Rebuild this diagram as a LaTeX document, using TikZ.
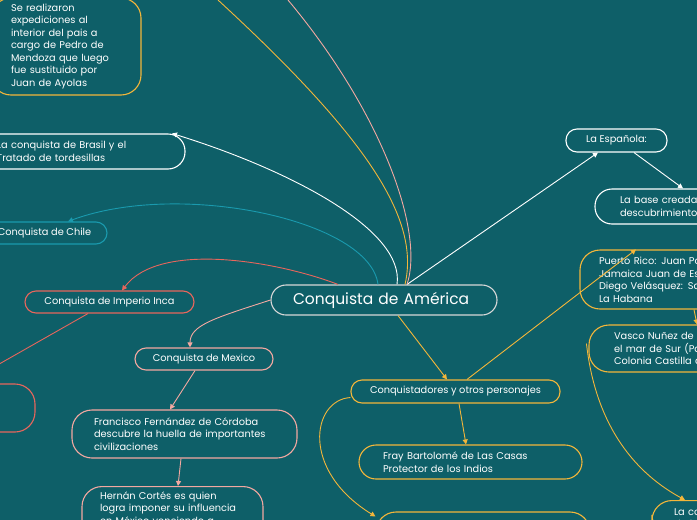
\documentclass[tikz,border=0pt]{standalone}
\usepackage{fontspec}
\setmainfont{Poppins}
\usetikzlibrary{arrows.meta, calc, positioning}

\definecolor{bgteal}{HTML}{0E5F68}
\definecolor{corange}{HTML}{F3B63A}
\definecolor{cpink}{HTML}{F3A8A1}
\definecolor{cred}{HTML}{E8665C}
\definecolor{cteal}{HTML}{1A9AAE}
\definecolor{cgray}{HTML}{D8D8D8}

\begin{document}
\begin{tikzpicture}[x=1pt, y=-1pt, >={Triangle[length=5pt,width=5pt]}, font=\fontsize{9.8}{12.5}\selectfont,
  topic/.style={draw=#1, line width=1.1pt, rounded corners=11pt, text=white, inner ysep=0pt},
  link/.style={->, line width=0.9pt, draw=#1}]
    % Canvas
    \useasboundingbox (0,0) rectangle (697,520);
    \fill[bgteal] (0,0) rectangle (697,520);
    \clip (0,0) rectangle (697,520);

    % Central topic
    \node[topic=cgray, rounded corners=15pt, minimum height=30pt, text width=182pt, inner xsep=22pt, align=left,
          font=\fontsize{15.5}{18}\selectfont] (ame) at (384,300) {Conquista de América};

    % Left branches
    \node[topic=corange, rounded corners=20pt, minimum height=97pt, text width=110pt, inner xsep=20pt, align=left] (expedic) at (66,46.5)
        {Se realizaron\\expediciones al\\interior del pais a\\cargo de Pedro de\\Mendoza que luego\\fue sustituido por\\Juan de Ayolas};
    \node[topic=white, rounded corners=17pt, minimum height=35pt, text width=161pt, inner xsep=27pt, align=left] (brasil) at (77.5,151.5)
        {La conquista de Brasil y el\\Tratado de tordesillas};
    \node[topic=cteal, minimum height=22pt, minimum width=125pt, align=center] (chile) at (44.5,233) {Conquista de Chile};
    \node[topic=cred, minimum height=22pt, minimum width=169pt, align=center] (inca) at (109.5,302) {Conquista de Imperio Inca};
    \node[topic=cred, rounded corners=20pt, minimum height=48pt, minimum width=135pt] (redbox) at (-32.5,408) {};
    \node[topic=cpink, minimum height=22pt, minimum width=138pt, align=center] (mexico) at (204,359) {Conquista de Mexico};
    \node[topic=cpink, rounded corners=20pt, minimum height=48pt, text width=181pt, inner xsep=22pt, align=left] (cordoba) at (184.5,434)
        {Francisco Fernández de Córdoba\\descubre la huella de importantes\\civilizaciones};
    \node[topic=cpink, rounded corners=20pt, text width=145pt, inner xsep=18pt, inner ysep=5pt, align=left, anchor=north] (cortes) at (172.5,486)
        {Hernán Cortés es quien\\logra imponer su influencia\\en México venciendo a\\los aztecas};

    % Right branches
    \node[topic=corange, minimum height=23pt, minimum width=209pt, align=center] (conq) at (455.5,391.5) {Conquistadores y otros personajes};
    \node[topic=corange, rounded corners=17pt, minimum height=34pt, text width=175pt, inner xsep=24pt, align=left] (fray) at (470.5,462)
        {Fray Bartolomé de Las Casas\\Protector de los Indios};
    \node[topic=corange, rounded corners=20pt, minimum height=48pt, minimum width=214pt] (bot) at (483,536) {};
    \node[topic=white, minimum height=23pt, minimum width=101pt, align=center] (espanola) at (616.5,140.5) {La Española:};
    \node[topic=white, rounded corners=17pt, minimum height=35pt, text width=155pt, inner xsep=25pt, align=left] (base) at (697.5,206.5)
        {La base creada\\descubrimiento};
    \node[topic=corange, rounded corners=20pt, minimum height=59pt, text width=202pt, inner xsep=19pt, align=left] (puerto) at (700,279.5)
        {Puerto Rico: Juan Ponce de León\\Jamaica Juan de Esquivel\\Diego Velásquez: Santiago de Cuba\\La Habana};
    \node[topic=corange, rounded corners=20pt, minimum height=47pt, text width=190pt, inner xsep=25pt, align=left] (vasco) at (709,348.5)
        {Vasco Nuñez de Balboa descubre\\el mar de Sur (Pacífico)\\Colonia Castilla de Oro};
    \node[topic=corange, rounded corners=20pt, text width=104pt, inner xsep=22pt, inner ysep=7pt, align=left, anchor=north] (lac) at (726,500)
        {La colonización\\de las islas};

    % Free ends above the page
    \coordinate (offorange) at (218,0);
    \coordinate (offpink) at (288,0);

    % Connectors
    \draw[link=white] ([xshift=23pt]ame.north) -- ([xshift=-18.5pt]espanola.south);
    \draw[link=white] ([xshift=17.5pt]espanola.south) -- ([xshift=-14.5pt]base.north);
    \draw[link=white] ([xshift=13pt]ame.north) .. controls (405,230) and (290,170) .. ([xshift=94.5pt]brasil.north);
    \draw[link=cteal] ([xshift=-6pt]ame.north) .. controls (370,220) and (180,180) .. ([xshift=23.5pt]chile.north);
    \draw[link=cred] ([xshift=-46pt]ame.north) .. controls (280,262) and (160,240) .. ([xshift=12.5pt]inca.north);
    \draw[link=cred] ([xshift=-21.5pt]inca.south) -- ([xshift=-2.5pt]redbox.north);
    \draw[link=cpink] (ame.west) .. controls (215,318) and (190,325) .. ([xshift=-14pt]mexico.north);
    \draw[link=cpink] ([xshift=-9pt]mexico.south) -- ([xshift=-14.5pt]cordoba.north);
    \draw[link=cpink] ([xshift=-3.5pt]cordoba.south) -- ([xshift=5.5pt]cortes.north);
    \draw[cpink, line width=0.9pt] ([xshift=23pt]ame.north) .. controls (425,230) and (380,110) .. (offpink);
    \draw[corange, line width=0.9pt] ([xshift=21pt]ame.north) .. controls (420,220) and (370,140) .. (offorange);
    \draw[link=corange] ([xshift=14pt]ame.south) -- ([xshift=-8.5pt]conq.north);
    \draw[link=corange] ([xshift=3.5pt]conq.south) -- ([xshift=-4.5pt]fray.north);
    \draw[link=corange] ([yshift=-6pt]conq.west) .. controls (312,400) and (300,470) .. ([yshift=-5pt]bot.north west);
    \draw[link=corange] ([xshift=11.5pt]conq.north) -- ([xshift=-64pt]puerto.north);
    \draw[link=corange] ([xshift=-6pt]puerto.south) -- ([xshift=-12pt]vasco.north);
    \draw[link=corange] ([xshift=-2pt,yshift=5pt]vasco.west) .. controls (595,420) and (630,470) .. ([xshift=-41pt]lac.north);
\end{tikzpicture}
\end{document}
